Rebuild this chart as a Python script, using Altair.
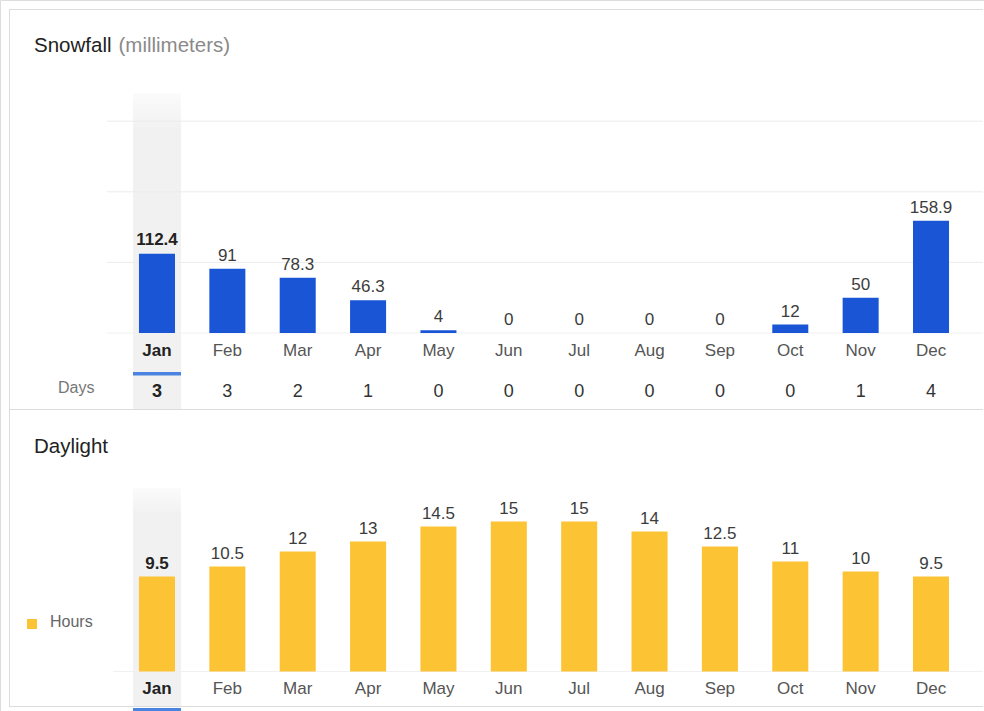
import altair as alt
import pandas as pd

# ---------------- data ----------------
months = ["Jan", "Feb", "Mar", "Apr", "May", "Jun", "Jul", "Aug", "Sep", "Oct", "Nov", "Dec"]
snowfall_mm = [112.4, 91, 78.3, 46.3, 4, 0, 0, 0, 0, 12, 50, 158.9]
snow_days = [3, 3, 2, 1, 0, 0, 0, 0, 0, 0, 1, 4]
daylight_hours = [9.5, 10.5, 12, 13, 14.5, 15, 15, 14, 12.5, 11, 10, 9.5]
snow_grid = [100, 200, 300]
selected_month = "Jan"

FONT = "Liberation Sans, Arial, sans-serif"
W = 984
H = 711
P2 = 410  # top of the daylight panel
T1 = 1.0  # text nudge, snowfall panel
T2 = 2.0  # text nudge, daylight panel

BLUE = "#1a55d6"
YELLOW = "#fcc434"
ACCENT = "#4a84e0"
HILITE = "#f1f1f1"
FRAME = "#dcdcdc"
GRID = "#ebebeb"


def fmt(v):
    return f"{v:g}"


snow = pd.DataFrame({
    "month": months,
    "mm": snowfall_mm,
    "label": [fmt(v) for v in snowfall_mm],
    "days": [str(d) for d in snow_days],
})
snow["sel"] = snow["month"] == selected_month

day = pd.DataFrame({
    "month": months,
    "hours": daylight_hours,
    "label": [fmt(v) for v in daylight_hours],
})
day["sel"] = day["month"] == selected_month

grid = pd.DataFrame({"v": snow_grid})
base_snow = pd.DataFrame({"mm": [0]})
base_day = pd.DataFrame({"hours": [0]})
one = pd.DataFrame({"k": [0]})

x_scale = alt.Scale(domain=months, range=[121.8, 966.2], paddingInner=0.488, paddingOuter=0.244)
X = alt.X("month:N", scale=x_scale, axis=None, sort=months)

# snowfall: 0 mm sits on y=333, ~0.706 px per mm
Y1 = alt.Scale(domain=[0, 300], range=[333, 333 - 300 * 0.706], nice=False, zero=False)
# daylight: 0 h sits on y=671.5, 10 px per hour
Y2 = alt.Scale(domain=[0, 15], range=[P2 + 261.5, P2 + 111.5], nice=False, zero=False)

hl_fill = alt.Gradient(
    gradient="linear",
    stops=[alt.GradientStop(color="#fbfbfb", offset=0),
           alt.GradientStop(color=HILITE, offset=0.12),
           alt.GradientStop(color=HILITE, offset=1)],
    x1=0, x2=0, y1=0, y2=1,
)

VAL_FS = 17
MON_FS = 17


def sel(df):
    return df[df["sel"]]


def unsel(df):
    return df[~df["sel"]]


def text(df, **kw):
    return alt.Chart(df).mark_text(font=FONT, **kw)


def seg(x1, y1, x2, y2, color=FRAME):
    return alt.Chart(one).mark_rule(color=color, strokeWidth=1).encode(
        x=alt.value(x1), y=alt.value(y1), x2=alt.value(x2), y2=alt.value(y2))


# ---------------- frame ----------------
frame = [
    seg(9, 9.5, 983, 9.5),                 # top border
    seg(9.5, 9, 9.5, P2 + 297),            # left border
    seg(9, 409.5, 983, 409.5),             # separator between panels
    seg(9, P2 + 296.5, 983, P2 + 296.5),   # bottom border
]

# ---------------- snowfall panel ----------------
hl1 = alt.Chart(sel(snow)).mark_bar(width=48, fill=hl_fill).encode(
    x=X, y=alt.value(93), y2=alt.value(409))

grid1 = alt.Chart(grid).mark_rule(color=GRID, strokeWidth=1).encode(
    y=alt.Y("v:Q", scale=Y1, axis=None), x=alt.value(107), x2=alt.value(983))
baseline1 = alt.Chart(base_snow).mark_rule(color="#f0f0f0", strokeWidth=1).encode(
    y=alt.Y("mm:Q", scale=Y1, axis=None), x=alt.value(107), x2=alt.value(983))

bars1 = alt.Chart(snow).mark_bar(color=BLUE).encode(
    x=X, y=alt.Y("mm:Q", scale=Y1, axis=None))

vals1 = text(unsel(snow), dy=-8, baseline="alphabetic", fontSize=VAL_FS, color="#3c3c3c").encode(
    x=X, y=alt.Y("mm:Q", scale=Y1, axis=None), text="label:N")
vals1s = text(sel(snow), dy=-9, baseline="alphabetic", fontSize=VAL_FS, fontWeight="bold", color="#222").encode(
    x=X, y=alt.Y("mm:Q", scale=Y1, axis=None), text="label:N")

mon1 = text(unsel(snow), baseline="alphabetic", fontSize=MON_FS, color="#555").encode(
    x=X, y=alt.value(354.5 + T1), text="month:N")
mon1s = text(sel(snow), baseline="alphabetic", fontSize=MON_FS, fontWeight="bold", color="#222").encode(
    x=X, y=alt.value(354.5 + T1), text="month:N")

under1 = alt.Chart(sel(snow)).mark_bar(width=48, color=ACCENT).encode(
    x=X, y=alt.value(372), y2=alt.value(375.5))

days1 = text(unsel(snow), baseline="alphabetic", fontSize=18, color="#333").encode(
    x=X, y=alt.value(395.5 + T1), text="days:N")
days1s = text(sel(snow), baseline="alphabetic", fontSize=18, fontWeight="bold", color="#222").encode(
    x=X, y=alt.value(395.5 + T1), text="days:N")

days_lbl = text(one, text="Days", align="left", baseline="alphabetic", fontSize=16, color="#777").encode(
    x=alt.value(58), y=alt.value(391.5 + T1))

title1a = text(one, text="Snowfall", align="left", baseline="alphabetic", fontSize=20.5, color="#222").encode(
    x=alt.value(34), y=alt.value(50.5 + T1))
title1b = text(one, text="(millimeters)", align="left", baseline="alphabetic", fontSize=20.5, color="#8a8a8a").encode(
    x=alt.value(118.5), y=alt.value(50.5 + T1))

# ---------------- daylight panel ----------------
hl2 = alt.Chart(sel(day)).mark_bar(width=48, fill=hl_fill).encode(
    x=X, y=alt.value(P2 + 78), y2=alt.value(P2 + 296))

baseline2 = alt.Chart(base_day).mark_rule(color="#f0f0f0", strokeWidth=1).encode(
    y=alt.Y("hours:Q", scale=Y2, axis=None), x=alt.value(113), x2=alt.value(983))

bars2 = alt.Chart(day).mark_bar(color=YELLOW).encode(
    x=X, y=alt.Y("hours:Q", scale=Y2, axis=None))

vals2 = text(unsel(day), dy=-8, baseline="alphabetic", fontSize=VAL_FS, color="#3c3c3c").encode(
    x=X, y=alt.Y("hours:Q", scale=Y2, axis=None), text="label:N")
vals2s = text(sel(day), dy=-8, baseline="alphabetic", fontSize=VAL_FS, fontWeight="bold", color="#222").encode(
    x=X, y=alt.Y("hours:Q", scale=Y2, axis=None), text="label:N")

mon2 = text(unsel(day), baseline="alphabetic", fontSize=MON_FS, color="#555").encode(
    x=X, y=alt.value(P2 + 282 + T2), text="month:N")
mon2s = text(sel(day), baseline="alphabetic", fontSize=MON_FS, fontWeight="bold", color="#222").encode(
    x=X, y=alt.value(P2 + 282 + T2), text="month:N")

under2 = alt.Chart(sel(day)).mark_bar(width=48, color=ACCENT).encode(
    x=X, y=alt.value(P2 + 298), y2=alt.value(P2 + 301))

title2 = text(one, text="Daylight", align="left", baseline="alphabetic", fontSize=20.5, color="#222").encode(
    x=alt.value(34), y=alt.value(P2 + 41.2 + T2))

legend_sq = alt.Chart(one).mark_square(size=100, color=YELLOW, opacity=1).encode(
    x=alt.value(32), y=alt.value(P2 + 212 + T2))
legend_txt = text(one, text="Hours", align="left", baseline="alphabetic", fontSize=16, color="#666").encode(
    x=alt.value(50), y=alt.value(P2 + 215.2 + T2))

chart = alt.layer(
    *frame,
    hl1, grid1, baseline1, bars1, vals1, vals1s, mon1, mon1s,
    under1, days1, days1s, days_lbl, title1a, title1b,
    hl2, baseline2, bars2, vals2, vals2s, mon2, mon2s, under2,
    title2, legend_sq, legend_txt,
).resolve_scale(
    y="independent"
).properties(
    width=W, height=H, padding=0,
    autosize=alt.AutoSizeParams(type="none"),
).configure_view(stroke="transparent", strokeWidth=0).configure(font=FONT)

chart.save("out.html", embed_options={"renderer": "svg", "actions": False})
